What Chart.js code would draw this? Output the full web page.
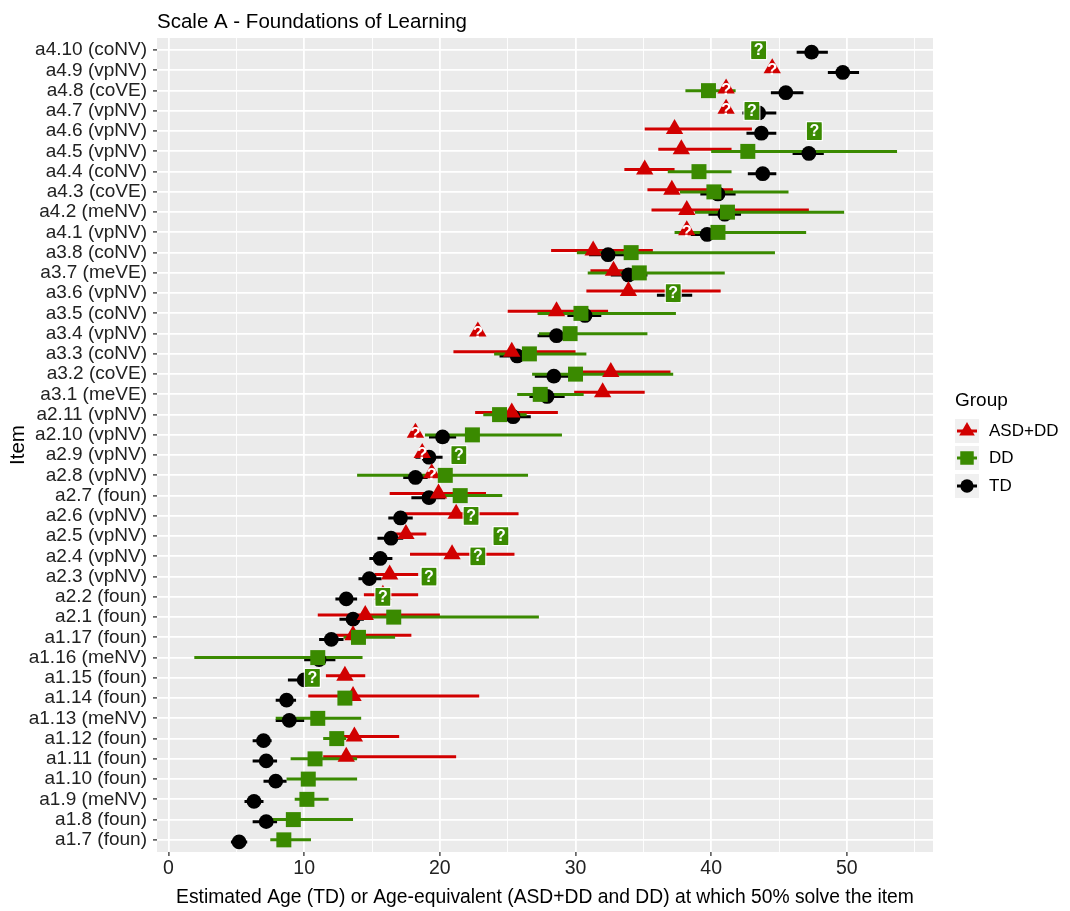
<!DOCTYPE html>
<html>
<head>
<meta charset="utf-8">
<script src="https://cdn.jsdelivr.net/npm/chart.js@4.4.1/dist/chart.umd.min.js"></script>
<style>
  html, body { margin: 0; padding: 0; background: #ffffff; }
  #wrap { width: 1070px; height: 911px; }
</style>
</head>
<body>
<div id="wrap"><canvas id="chart" width="1070" height="911"></canvas></div>
<script>
// Items, listed from the top row of the plot down to the bottom row
const items = [
  'a4.10 (coNV)', 'a4.9 (vpNV)', 'a4.8 (coVE)', 'a4.7 (vpNV)', 'a4.6 (vpNV)',
  'a4.5 (vpNV)', 'a4.4 (coNV)', 'a4.3 (coVE)', 'a4.2 (meNV)', 'a4.1 (vpNV)',
  'a3.8 (coNV)', 'a3.7 (meVE)', 'a3.6 (vpNV)', 'a3.5 (coNV)', 'a3.4 (vpNV)',
  'a3.3 (coNV)', 'a3.2 (coVE)', 'a3.1 (meVE)', 'a2.11 (vpNV)', 'a2.10 (vpNV)',
  'a2.9 (vpNV)', 'a2.8 (vpNV)', 'a2.7 (foun)', 'a2.6 (vpNV)', 'a2.5 (vpNV)',
  'a2.4 (vpNV)', 'a2.3 (vpNV)', 'a2.2 (foun)', 'a2.1 (foun)', 'a1.17 (foun)',
  'a1.16 (meNV)', 'a1.15 (foun)', 'a1.14 (foun)', 'a1.13 (meNV)', 'a1.12 (foun)',
  'a1.11 (foun)', 'a1.10 (foun)', 'a1.9 (meNV)', 'a1.8 (foun)', 'a1.7 (foun)'
];

// ASD+DD: age-equivalent estimate and interval (null = not estimated)
const asdAge = [
  null, 44.5, 41.1, 41.1, 37.3, 37.8, 35.1, 37.1, 38.2, 38.2,
  31.3, 32.8, 33.9, 28.6, 22.8, 25.3, 32.6, 32.0, 25.3, 18.2,
  18.7, 19.4, 19.9, 21.2, 17.5, 20.9, 16.3, 15.8, 14.5, 13.6,
  null, 13.0, 13.6, null, 13.7, 13.1, null, null, null, null
];
const asdLow = [
  null, null, null, null, 35.1, 36.1, 33.6, 35.3, 35.6, null,
  28.2, 31.1, 30.8, 25.0, null, 21.0, 30.3, 29.9, 22.6, null,
  null, null, 16.3, 17.4, 16.7, 17.8, 15.2, 14.4, 11.0, 12.3,
  null, 11.6, 10.3, null, 12.9, 11.4, null, null, null, null
];
const asdHigh = [
  null, null, null, null, 43.0, 41.5, 37.3, 41.6, 47.2, null,
  35.7, 34.9, 40.7, 32.4, null, 30.0, 37.0, 35.1, 28.7, null,
  null, null, 23.4, 25.8, 19.0, 25.5, 18.4, 18.4, 20.0, 17.9,
  null, 14.5, 22.9, null, 17.0, 21.2, null, null, null, null
];

// DD: age-equivalent estimate and interval
const ddAge = [
  43.5, null, 39.8, 43.0, 47.6, 42.7, 39.1, 40.2, 41.2, 40.5,
  34.1, 34.7, 37.2, 30.4, 29.6, 26.6, 30.0, 27.4, 24.4, 22.4,
  21.4, 20.4, 21.5, 22.3, 24.5, 22.8, 19.2, 15.8, 16.6, 14.0,
  11.0, 10.6, 13.0, 11.0, 12.4, 10.8, 10.3, 10.2, 9.2, 8.5
];
const ddLow = [
  null, null, 38.1, null, null, 40.0, 36.8, 37.7, 38.8, 37.3,
  30.1, 30.9, null, 27.2, 27.3, 24.0, 26.8, 25.7, 23.2, 18.9,
  null, 13.9, 18.9, null, null, null, null, null, 13.5, 12.9,
  1.9, null, null, 7.9, 11.4, 9.0, 8.7, 9.3, 7.3, 7.5
];
const ddHigh = [
  null, null, 41.8, null, null, 53.7, 41.5, 45.7, 49.8, 47.0,
  44.7, 41.0, null, 37.4, 35.3, 30.8, 37.2, 30.6, 26.4, 29.0,
  null, 26.5, 24.6, null, null, null, null, null, 27.3, 16.7,
  14.3, null, null, 14.2, 13.1, 13.9, 13.9, 11.8, 13.6, 10.5
];

// TD: estimated age and interval
const tdAge = [
  47.4, 49.7, 45.5, 43.5, 43.7, 47.2, 43.8, 40.5, 41.0, 39.7,
  32.4, 33.9, 37.3, 30.7, 28.6, 25.7, 28.4, 27.9, 25.4, 20.2,
  19.2, 18.2, 19.2, 17.1, 16.4, 15.6, 14.8, 13.1, 13.6, 12.0,
  11.1, 10.0, 8.7, 8.9, 7.0, 7.2, 7.9, 6.3, 7.2, 5.2
];
const tdLow = [
  46.3, 48.6, 44.4, 42.3, 42.6, 46.0, 42.7, 39.2, 39.8, 38.5,
  31.0, 32.6, 36.0, 29.4, 27.2, 24.4, 27.0, 26.6, 24.2, 19.2,
  18.2, 17.3, 17.9, 16.2, 15.4, 14.8, 14.0, 12.3, 12.6, 11.1,
  10.0, 8.8, 7.9, 7.9, 6.2, 6.2, 7.0, 5.6, 6.2, 4.6
];
const tdHigh = [
  48.6, 50.9, 46.8, 44.8, 44.8, 48.3, 44.8, 41.8, 42.2, 40.9,
  33.6, 35.3, 38.6, 31.9, 29.9, 26.9, 29.8, 29.2, 26.7, 21.2,
  20.2, 19.1, 20.4, 18.0, 17.3, 16.5, 15.7, 13.9, 14.4, 12.9,
  12.3, 10.8, 9.4, 10.0, 7.6, 8.0, 8.7, 7.0, 8.0, 5.8
];

// Estimates flagged with "?" (no interval could be computed)
const asdQueried = ['a4.9 (vpNV)', 'a4.8 (coVE)', 'a4.7 (vpNV)', 'a4.1 (vpNV)', 'a3.4 (vpNV)',
                    'a2.10 (vpNV)', 'a2.9 (vpNV)', 'a2.8 (vpNV)'];
const ddQueried = ['a4.10 (coNV)', 'a4.7 (vpNV)', 'a4.6 (vpNV)', 'a3.6 (vpNV)', 'a2.9 (vpNV)',
                   'a2.6 (vpNV)', 'a2.5 (vpNV)', 'a2.4 (vpNV)', 'a2.3 (vpNV)', 'a2.2 (foun)',
                   'a1.15 (foun)'];

const xTickValues = [0, 5, 10, 15, 20, 25, 30, 35, 40, 45, 50, 55];

const FONT = "'Liberation Sans', Arial, Helvetica, sans-serif";
const RED = '#d10000';
const GREEN = '#3a8a00';
const BLACK = '#000000';
const PANEL = '#ebebeb';
const DODGE = 0.1;

const groups = [
  { name: 'ASD+DD', color: RED,   style: 'triangle', radius: 10,   est: asdAge, lo: asdLow, hi: asdHigh, queried: asdQueried, shift: -DODGE, layer: 1 },
  { name: 'DD',     color: GREEN, style: 'rect',     radius: 10.6, est: ddAge,  lo: ddLow,  hi: ddHigh,  queried: ddQueried,  shift: 0,      layer: 0 },
  { name: 'TD',     color: BLACK, style: 'circle',   radius: 7.4,  est: tdAge,  lo: tdLow,  hi: tdHigh,  queried: [],         shift: DODGE,  layer: 2 }
];

function intervalPoints(g) {
  const pts = [];
  items.forEach((item, i) => {
    if (g.lo[i] != null && g.hi[i] != null) {
      pts.push({ x: g.lo[i], y: i + g.shift }, { x: g.hi[i], y: i + g.shift }, { x: NaN, y: NaN });
    }
  });
  return pts;
}

function estimatePoints(g) {
  const pts = [];
  items.forEach((item, i) => {
    if (g.est[i] != null) pts.push({ x: g.est[i], y: i + g.shift, item: i });
  });
  return pts;
}

const datasets = [];
groups.forEach(g => {
  datasets.push({
    label: g.name + ' interval',
    kind: 'interval',
    data: intervalPoints(g),
    showLine: true,
    spanGaps: false,
    borderColor: g.color,
    borderWidth: 3,
    borderCapStyle: 'butt',
    pointRadius: 0,
    pointHoverRadius: 0,
    order: 3 + g.layer
  });
  datasets.push({
    label: g.name,
    kind: 'estimate',
    group: g,
    data: estimatePoints(g),
    showLine: false,
    pointStyle: g.style,
    pointRadius: g.radius,
    pointHoverRadius: g.radius,
    pointBackgroundColor: g.color,
    pointBorderColor: g.color,
    pointBorderWidth: 0,
    order: g.layer
  });
});

// grey panel behind the grid
const panelBackground = {
  id: 'panelBackground',
  beforeDraw(chart) {
    const { ctx, chartArea: a } = chart;
    ctx.save();
    ctx.fillStyle = '#ffffff';
    ctx.fillRect(0, 0, chart.width, chart.height);
    ctx.fillStyle = PANEL;
    ctx.fillRect(a.left, a.top, a.right - a.left, a.bottom - a.top);
    ctx.restore();
  }
};

// "?" markers for estimates without an interval
const queriedMarks = {
  id: 'queriedMarks',
  afterDatasetDraw(chart, args) {
    const ds = chart.data.datasets[args.index];
    if (ds.kind !== 'estimate' || !ds.group.queried.length) return;
    const g = ds.group;
    const meta = chart.getDatasetMeta(args.index);
    const ctx = chart.ctx;
    ctx.save();
    ctx.textAlign = 'center';
    ctx.textBaseline = 'middle';
    meta.data.forEach((pt, j) => {
      const item = items[ds.data[j].item];
      if (!g.queried.includes(item)) return;
      const { x, y } = pt.getProps(['x', 'y'], true);
      if (g.style === 'rect') {
        ctx.fillStyle = g.color;
        ctx.strokeStyle = '#ffffff';
        ctx.lineWidth = 1;
        ctx.fillRect(x - 7.5, y - 9, 15, 18);
        ctx.strokeRect(x - 8, y - 9.5, 16, 19);
        ctx.fillStyle = '#ffffff';
        ctx.font = 'bold 16px ' + FONT;
        ctx.fillText('?', x, y + 0.5);
      } else {
        ctx.fillStyle = '#ffffff';
        ctx.font = 'bold 17px ' + FONT;
        ctx.fillText('?', x, y + 1.5);
      }
    });
    ctx.restore();
  }
};

function drawMarker(ctx, style, color, r, x, y) {
  ctx.fillStyle = color;
  ctx.beginPath();
  if (style === 'circle') {
    ctx.arc(x, y, r, 0, Math.PI * 2);
  } else if (style === 'rect') {
    const s = r * Math.SQRT1_2;
    ctx.rect(x - s, y - s, 2 * s, 2 * s);
  } else {
    ctx.moveTo(x, y - r);
    ctx.lineTo(x + r * Math.sin(Math.PI * 2 / 3), y - r * Math.cos(Math.PI * 2 / 3));
    ctx.lineTo(x + r * Math.sin(Math.PI * 4 / 3), y - r * Math.cos(Math.PI * 4 / 3));
    ctx.closePath();
  }
  ctx.fill();
}

// plot title and the group legend on the right
const annotations = {
  id: 'annotations',
  afterDraw(chart) {
    const { ctx, chartArea: a } = chart;
    ctx.save();
    ctx.fillStyle = '#000000';
    ctx.textAlign = 'left';
    ctx.textBaseline = 'alphabetic';
    ctx.font = '20.5px ' + FONT;
    ctx.fillText('Scale A - Foundations of Learning', a.left, 28);

    const lx = a.right + 22;
    ctx.textBaseline = 'middle';
    ctx.font = '19px ' + FONT;
    ctx.fillText('Group', lx, 401);
    const rows = [431, 458, 486];
    groups.forEach((g, k) => {
      const cy = rows[k];
      ctx.fillStyle = '#f0f0f0';
      ctx.fillRect(lx, cy - 12, 24, 24);
      ctx.strokeStyle = g.color;
      ctx.lineWidth = 3;
      ctx.beginPath();
      ctx.moveTo(lx + 2, cy);
      ctx.lineTo(lx + 22, cy);
      ctx.stroke();
      drawMarker(ctx, g.style, g.color, g.radius * 0.9, lx + 12, cy);
      ctx.fillStyle = '#000000';
      ctx.font = '17px ' + FONT;
      ctx.fillText(g.name, lx + 34, cy);
    });
    ctx.restore();
  }
};

new Chart(document.getElementById('chart'), {
  type: 'scatter',
  data: { datasets },
  options: {
    responsive: false,
    devicePixelRatio: 1,
    animation: false,
    events: [],
    layout: { padding: { top: 38, right: 137, bottom: 0, left: 0 } },
    plugins: {
      legend: { display: false },
      title: { display: false },
      tooltip: { enabled: false }
    },
    scales: {
      x: {
        type: 'linear',
        min: -0.85,
        max: 56.35,
        afterBuildTicks: s => { s.ticks = xTickValues.map(v => ({ value: v })); },
        afterFit: s => { s.height = 59; },
        border: { display: false },
        grid: {
          color: '#ffffff',
          lineWidth: c => (c.tick && c.tick.value % 10 === 0 ? 1.8 : 0.9),
          drawTicks: true,
          tickLength: 4,
          tickWidth: 1.3,
          tickColor: c => (c.tick && c.tick.value % 10 === 0 ? '#333333' : 'rgba(0,0,0,0)')
        },
        ticks: {
          autoSkip: false,
          maxRotation: 0,
          padding: 1,
          color: '#222222',
          font: { family: FONT, size: 19.5 },
          callback: v => (v % 10 === 0 ? String(v) : '')
        },
        title: {
          display: true,
          text: 'Estimated Age (TD) or Age-equivalent (ASD+DD and DD) at which 50% solve the item',
          color: '#000000',
          font: { family: FONT, size: 19.3 },
          padding: { top: 0, bottom: 2 }
        }
      },
      y: {
        type: 'linear',
        reverse: true,
        min: -0.6,
        max: items.length - 0.4,
        afterBuildTicks: s => { s.ticks = items.map((_, i) => ({ value: i })); },
        afterFit: s => { s.width = 157; },
        border: { display: false },
        grid: {
          color: '#ffffff',
          lineWidth: 1.8,
          drawTicks: true,
          tickLength: 4,
          tickWidth: 1.3,
          tickColor: '#333333'
        },
        ticks: {
          autoSkip: false,
          padding: 6,
          color: '#222222',
          font: { family: FONT, size: 19 },
          callback: v => (items[v] !== undefined ? items[v] : '')
        },
        title: {
          display: true,
          text: 'Item',
          color: '#000000',
          font: { family: FONT, size: 20.5 },
          padding: { top: 6, bottom: 0 }
        }
      }
    }
  },
  plugins: [panelBackground, queriedMarks, annotations]
});
</script>
</body>
</html>
